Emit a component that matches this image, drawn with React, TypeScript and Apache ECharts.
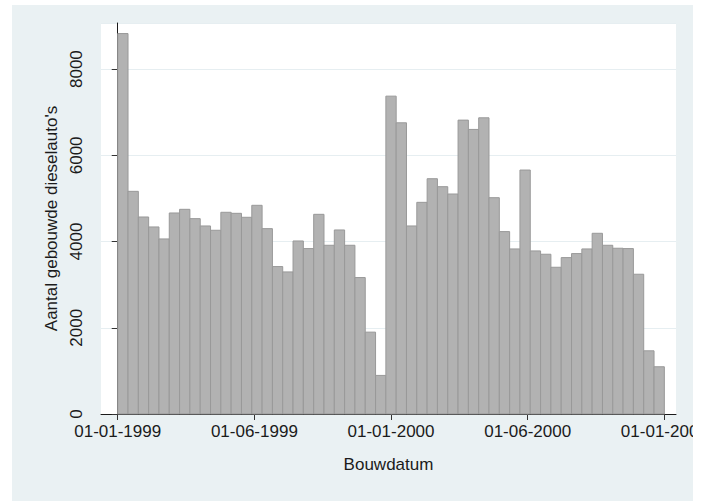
import React, { useEffect, useRef } from "react";
import * as echarts from "echarts";

// Biweekly counts of diesel cars built, 53 bins from Jan 1999 to Jan 2001
const binCounts = [
  8825, 5165, 4570, 4339, 4061, 4663, 4748, 4532, 4362, 4262, 4679, 4655, 4563,
  4841, 4300, 3420, 3296, 4014, 3837, 4632, 3914, 4269, 3914, 3165, 1899, 895,
  7373, 6755, 4362, 4910, 5458, 5273, 5103, 6817, 6601, 6871, 5018, 4231, 3829,
  5659, 3783, 3706, 3404, 3628, 3721, 3829, 4192, 3914, 3845, 3837, 3242, 1466,
  1096,
];

const dateTickLabels = [
  "01-01-1999",
  "01-06-1999",
  "01-01-2000",
  "01-06-2000",
  "01-01-2001",
];

const yTicks = [0, 2000, 4000, 6000, 8000];

const FONT = "'Liberation Sans', Arial, Helvetica, sans-serif";
const TEXT = "#1b1b1b";

export default function App() {
  const ref = useRef<HTMLDivElement>(null);

  useEffect(() => {
    if (!ref.current) return;
    const chart = echarts.init(ref.current, undefined, { renderer: "svg" });

    const nBins = binCounts.length;
    const step = nBins / (dateTickLabels.length - 1);
    const xTickValues = dateTickLabels.map((_, k) => k * step);

    chart.setOption({
      animation: false,
      backgroundColor: "#eaf1f3",
      textStyle: { fontFamily: FONT },
      grid: {
        left: 89,
        right: 17,
        top: 18,
        bottom: 87,
        show: true,
        backgroundColor: "#ffffff",
        borderWidth: 0,
        containLabel: false,
        outerBoundsMode: "none",
      },
      xAxis: {
        type: "value",
        min: -1.62,
        max: nBins + 1.13,
        name: "Bouwdatum",
        nameLocation: "middle",
        nameGap: 42,
        nameTextStyle: { fontSize: 17, color: TEXT, fontFamily: FONT },
        axisLine: { show: true, onZero: false, lineStyle: { color: "#1a1a1a", width: 1 } },
        axisTick: {
          show: true,
          length: 6,
          customValues: xTickValues,
          lineStyle: { color: "#333", width: 1 },
        },
        axisLabel: {
          customValues: xTickValues,
          fontSize: 17,
          color: TEXT,
          fontFamily: FONT,
          margin: 9,
          hideOverlap: false,
          formatter: (v: number) => {
            const k = Math.round(v / step);
            return dateTickLabels[k] ?? "";
          },
        },
        splitLine: { show: false },
      },
      yAxis: {
        type: "value",
        min: 0,
        max: 9070,
        interval: 2000,
        name: "Aantal gebouwde dieselauto's",
        nameLocation: "middle",
        nameGap: 40,
        nameRotate: 90,
        nameTextStyle: { fontSize: 17, color: TEXT, fontFamily: FONT },
        axisLine: { show: true, lineStyle: { color: "#1a1a1a", width: 1 } },
        axisTick: { show: true, length: 6, lineStyle: { color: "#333", width: 1 } },
        axisLabel: {
          rotate: 90,
          fontSize: 17,
          color: TEXT,
          fontFamily: FONT,
          margin: 16,
          showMaxLabel: false,
          formatter: (v: number) => (yTicks.includes(v) ? String(v) : ""),
        },
        splitLine: { show: true, lineStyle: { color: "#e6eef1", width: 1 } },
      },
      series: [
        {
          type: "custom",
          encode: { x: 0, y: 1 },
          data: binCounts.map((v, i) => [i, v]),
          renderItem: (_params: any, api: any) => {
            const i = api.value(0);
            const v = api.value(1);
            const top = api.coord([i, v]);
            const base = api.coord([i + 1, 0]);
            return {
              type: "rect",
              shape: {
                x: top[0],
                y: top[1],
                width: base[0] - top[0],
                height: base[1] - top[1],
              },
              style: { fill: "#b2b2b2", stroke: "#999999", lineWidth: 1 },
            };
          },
        },
      ],
    });

    return () => chart.dispose();
  }, []);

  return (
    <div
      ref={ref}
      style={{
        position: "absolute",
        left: 12,
        top: 5,
        width: 681,
        height: 496,
      }}
    />
  );
}
